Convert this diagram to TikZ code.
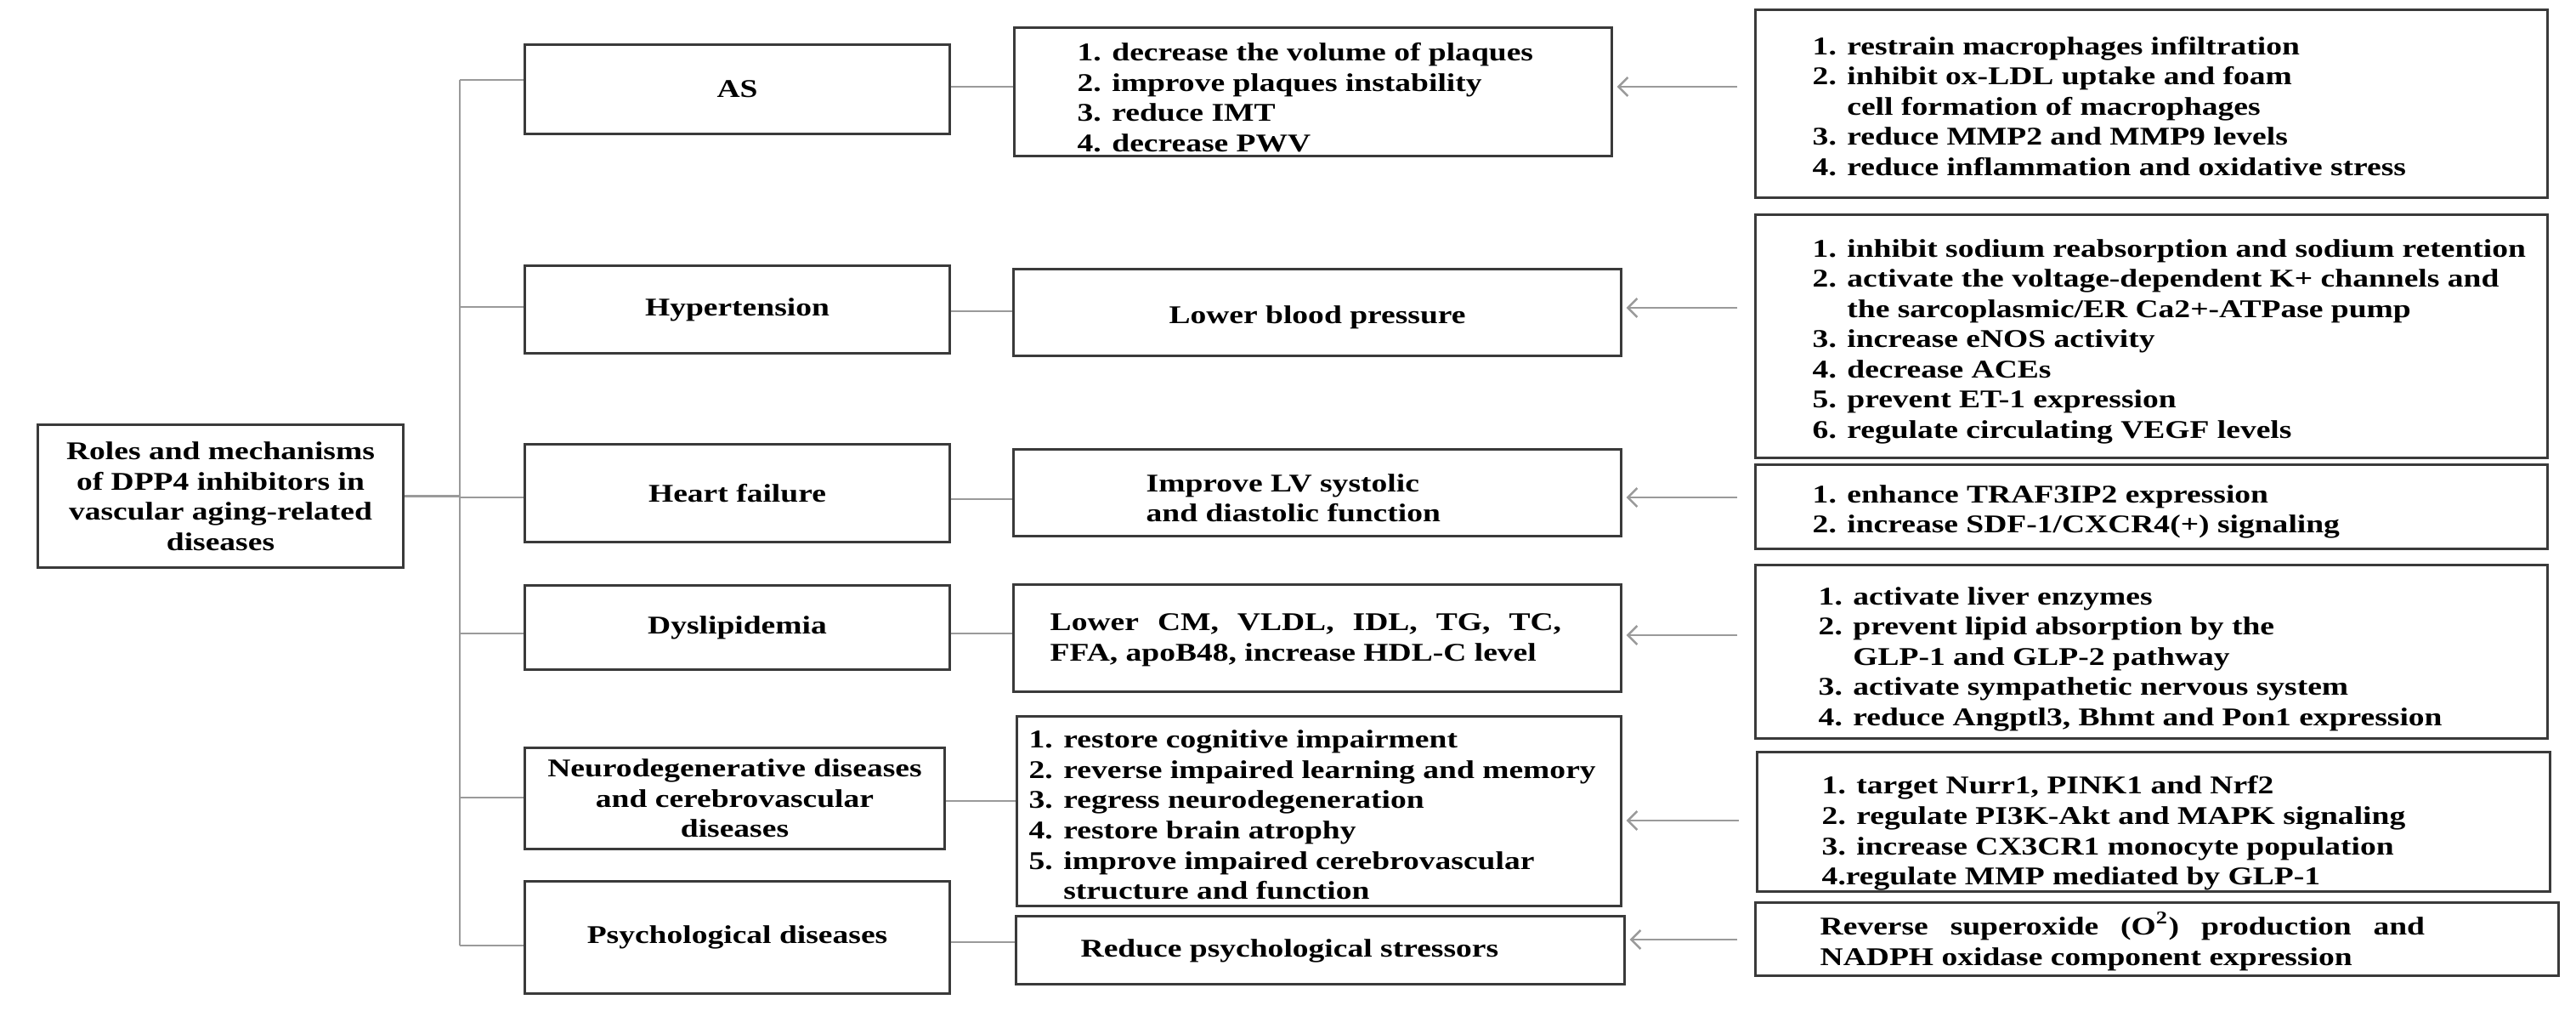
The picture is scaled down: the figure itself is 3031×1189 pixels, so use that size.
\documentclass[tikz,border=0pt]{standalone}
\usepackage{fontspec}
\setmainfont{Liberation Serif}[FakeStretch=1.25]
\usetikzlibrary{arrows.meta}
\definecolor{boxc}{HTML}{3A3A3A}
\definecolor{connc}{HTML}{9A9A9A}
\newcommand\mainf{\bfseries\fontsize{8.54pt}{10.1pt}\selectfont}
\tikzset{
  box/.style={draw=boxc, line width=0.85pt, inner sep=0pt},
  cat/.style={box, align=center, font=\mainf},
  txt/.style={inner sep=0pt, align=left, font=\mainf, anchor=west},
  conn/.style={draw=connc, line width=0.7pt},
  arr/.style={conn, -{Straight Barb[length=1.1mm,width=2.2mm]}, shorten <=0.2cm, shorten >=0.05cm},
}
\begin{document}
\begin{tikzpicture}[x=0.01cm,y=-0.01cm]
\fill[white] (0,0) rectangle (3031,1189);
\useasboundingbox (0,0) rectangle (3031,1189);

% root
\node[cat, minimum width=4.29cm, minimum height=1.67cm] (root) at (259.5,583.5)
  {Roles and mechanisms\\of DPP4 inhibitors in\\vascular aging-related\\diseases};

% column 1
\node[cat, minimum width=4.99cm, minimum height=1.04cm] (as) at (867.5,105) {AS};
\node[cat, minimum width=4.99cm, minimum height=1.02cm] (ht) at (867.5,364) {Hypertension};
\node[cat, minimum width=4.99cm, minimum height=1.14cm] (hf) at (867.5,580) {Heart failure};
\node[cat, minimum width=4.99cm, minimum height=0.98cm] (dy) at (867.5,738) {Dyslipidemia};
\node[cat, minimum width=4.93cm, minimum height=1.18cm] (ne) at (864.5,939)
  {Neurodegenerative diseases\\and cerebrovascular\\diseases};
\node[cat, minimum width=4.99cm, minimum height=1.31cm] (ps) at (867.5,1102.5) {Psychological diseases};

% column 2 boxes
\node[box, minimum width=7.02cm, minimum height=1.50cm] (asM) at (1545,108) {};
\node[box, minimum width=7.14cm, minimum height=1.01cm] (htM) at (1550,367.5) {};
\node[box, minimum width=7.14cm, minimum height=1.01cm] (hfM) at (1550,579.5) {};
\node[box, minimum width=7.14cm, minimum height=1.25cm] (dyM) at (1550,750.5) {};
\node[box, minimum width=7.10cm, minimum height=2.22cm] (neM) at (1552,954) {};
\node[box, minimum width=7.15cm, minimum height=0.79cm] (psM) at (1553.5,1117.5) {};

% column 2 texts
\node[txt] (asMt) at (1267,114.5) {1. decrease the volume of plaques\\2. improve plaques instability\\3. reduce IMT\\4. decrease PWV};
\node[txt, anchor=center] (htMt) at (1550,373) {Lower blood pressure};
\node[txt] (hfMt) at (1348,586) {Improve LV systolic\\and diastolic function};
\node[txt, text width=6.01cm, align=justify] (dyMt) at (1235,753) {Lower CM, VLDL, IDL, TG, TC,\linebreak FFA, apoB48, increase HDL-C level};
\node[txt] (neMt) at (1210,958.5) {1. restore cognitive impairment\\2. reverse impaired learning and memory\\3. regress neurodegeneration\\4. restore brain atrophy\\5. improve impaired cerebrovascular\\\hphantom{5. }structure and function};
\node[txt] (psMt) at (1271,1118) {Reduce psychological stressors};

% column 3 boxes
\node[box, minimum width=9.31cm, minimum height=2.20cm] (asC) at (2531.5,122) {};
\node[box, minimum width=9.31cm, minimum height=2.85cm] (htC) at (2531.5,395.5) {};
\node[box, minimum width=9.31cm, minimum height=0.98cm] (hfC) at (2531.5,596) {};
\node[box, minimum width=9.31cm, minimum height=2.03cm] (dyC) at (2531.5,766.5) {};
\node[box, minimum width=9.32cm, minimum height=1.63cm] (neC) at (2534,966.5) {};
\node[box, minimum width=9.44cm, minimum height=0.85cm] (psC) at (2538,1104.5) {};

% column 3 texts
\node[txt] (asCt) at (2132,125) {1. restrain macrophages infiltration\\2. inhibit ox-LDL uptake and foam\\\hphantom{2. }cell formation of macrophages\\3. reduce MMP2 and MMP9 levels\\4. reduce inflammation and oxidative stress};
\node[txt] (htCt) at (2132,401.5) {1. inhibit sodium reabsorption and sodium retention\\2. activate the voltage-dependent K+ channels and\\\hphantom{2. }the sarcoplasmic/ER Ca2+-ATPase pump\\3. increase eNOS activity\\4. decrease ACEs\\5. prevent ET-1 expression\\6. regulate circulating VEGF levels};
\node[txt] (hfCt) at (2132,602) {1. enhance TRAF3IP2 expression\\2. increase SDF-1/CXCR4(+) signaling};
\node[txt] (dyCt) at (2139,775) {1. activate liver enzymes\\2. prevent lipid absorption by the\\\hphantom{2. }GLP-1 and GLP-2 pathway\\3. activate sympathetic nervous system\\4. reduce Angptl3, Bhmt and Pon1 expression};
\node[txt] (neCt) at (2143,980) {1. target Nurr1, PINK1 and Nrf2\\2. regulate PI3K-Akt and MAPK signaling\\3. increase CX3CR1 monocyte population\\4.regulate MMP mediated by GLP-1};
\node[txt, text width=7.11cm, align=justify] (psCt) at (2141,1107) {Reverse superoxide (O\textsuperscript{2}) production and\linebreak NADPH oxidase component expression};

% tree: trunk and branches
\coordinate (bAS) at (541,94);
\coordinate (bHT) at (541,361);
\coordinate (bHF) at (541,585);
\coordinate (bDY) at (541,745);
\coordinate (bNE) at (541,938);
\coordinate (bPS) at (541,1112);
\draw[conn] (bAS) -- (bPS);
\draw[conn] (root.east) -- (root.east -| bAS);
\draw[conn] (bAS) -- (bAS -| as.west);
\draw[conn] (bHT) -- (bHT -| ht.west);
\draw[conn] (bHF) -- (bHF -| hf.west);
\draw[conn] (bDY) -- (bDY -| dy.west);
\draw[conn] (bNE) -- (bNE -| ne.west);
\draw[conn] (bPS) -- (bPS -| ps.west);

% column 1 -> column 2
\coordinate (lAS) at (0,102);
\coordinate (lHT) at (0,366);
\coordinate (lHF) at (0,587);
\coordinate (lDY) at (0,745);
\coordinate (lNE) at (0,942);
\coordinate (lPS) at (0,1108);
\draw[conn] (as.east |- lAS) -- (asM.west |- lAS);
\draw[conn] (ht.east |- lHT) -- (htM.west |- lHT);
\draw[conn] (hf.east |- lHF) -- (hfM.west |- lHF);
\draw[conn] (dy.east |- lDY) -- (dyM.west |- lDY);
\draw[conn] (ne.east |- lNE) -- (neM.west |- lNE);
\draw[conn] (ps.east |- lPS) -- (psM.west |- lPS);

% column 3 -> column 2 arrows
\coordinate (aAS) at (0,102);
\coordinate (aHT) at (0,362);
\coordinate (aHF) at (0,585);
\coordinate (aDY) at (0,747);
\coordinate (aNE) at (0,965);
\coordinate (aPS) at (0,1105);
\draw[arr] (asC.west |- aAS) -- (asM.east |- aAS);
\draw[arr] (htC.west |- aHT) -- (htM.east |- aHT);
\draw[arr] (hfC.west |- aHF) -- (hfM.east |- aHF);
\draw[arr] (dyC.west |- aDY) -- (dyM.east |- aDY);
\draw[arr] (neC.west |- aNE) -- (neM.east |- aNE);
\draw[arr] (psC.west |- aPS) -- (psM.east |- aPS);
\end{tikzpicture}
\end{document}
